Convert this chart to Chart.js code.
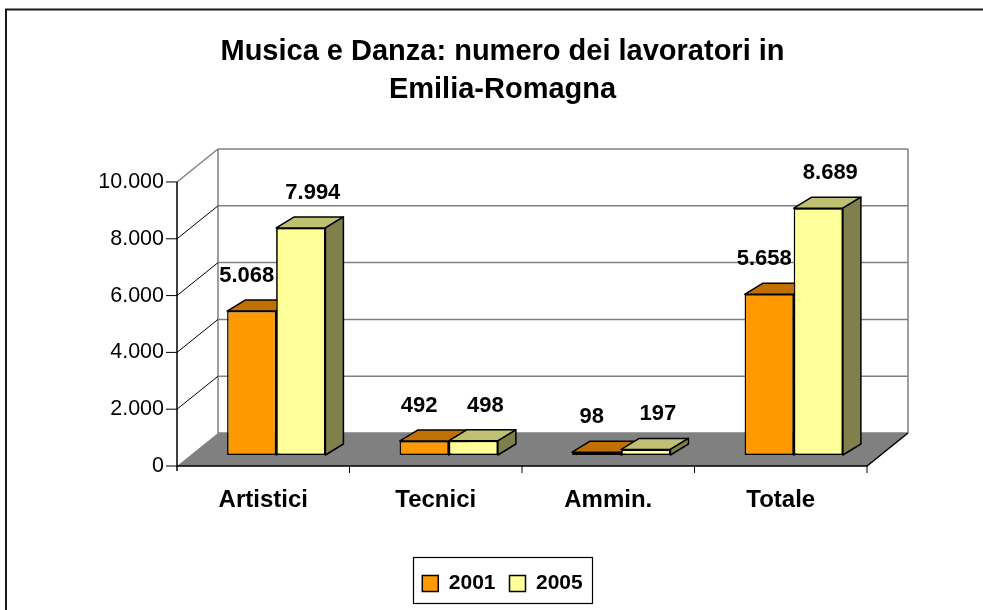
<!DOCTYPE html>
<html>
<head>
<meta charset="utf-8">
<script src="https://cdn.jsdelivr.net/npm/chart.js@4"></script>
<style>
  html, body { margin: 0; padding: 0; background: #fff; }
  canvas { display: block; }
</style>
</head>
<body>
<canvas id="chart" width="983" height="610"></canvas>
<script>
const categories = ["Artistici", "Tecnici", "Ammin.", "Totale"];
const values2001 = [5068, 492, 98, 5658];
const values2005 = [7994, 498, 197, 8689];
const seriesNames = ["2001", "2005"];
const yMax = 10000;
const yStep = 2000;

// 3D look: offsets relative to the plane where the bars stand
const F = { x: -13, y: 11 };   // front edge of floor / axes
const B = { x: 28, y: -22 };   // back wall
const D = { x: 18, y: -11 };   // depth of a bar

const sideColors = [
  { front: "#FF9900", top: "#C07000", side: "#804C00" },
  { front: "#FFFF99", top: "#C0C073", side: "#80804C" },
];
const labelShift = [ { x: -5, y: -35 }, { x: 12, y: -35 } ];

function fmt(v) {
  return String(v).replace(/\B(?=(\d{3})+(?!\d))/g, ".");
}

function drawFaces(ctx, bar, col) {
  const { x, y, base, width } = bar.getProps(["x", "y", "base", "width"], true);
  const x1 = x - width / 2, x2 = x + width / 2;
  ctx.save();
  ctx.strokeStyle = "#000";
  ctx.lineWidth = 1.5;
  ctx.lineJoin = "round";
  ctx.fillStyle = col.top;
  ctx.beginPath();
  ctx.moveTo(x1, y); ctx.lineTo(x1 + D.x, y + D.y);
  ctx.lineTo(x2 + D.x, y + D.y); ctx.lineTo(x2, y);
  ctx.closePath(); ctx.fill(); ctx.stroke();
  ctx.fillStyle = col.side;
  ctx.beginPath();
  ctx.moveTo(x2, y); ctx.lineTo(x2 + D.x, y + D.y);
  ctx.lineTo(x2 + D.x, base + D.y); ctx.lineTo(x2, base);
  ctx.closePath(); ctx.fill(); ctx.stroke();
  ctx.restore();
}

const frame3d = {
  id: "frame3d",
  beforeDraw(chart) {
    const ctx = chart.ctx;
    ctx.save();
    ctx.strokeStyle = "#1a1a1a";
    ctx.lineWidth = 2;
    ctx.strokeRect(6, 9.5, 1200, 900);
    ctx.restore();
  },
  beforeDatasetsDraw(chart) {
    const { ctx, chartArea: a, scales: { y } } = chart;
    const y0 = y.getPixelForValue(0);
    const yT = y.getPixelForValue(yMax);
    const bl = a.left + B.x, br = a.right + B.x;
    const fl = a.left + F.x, fr = a.right + F.x;
    ctx.save();

    // back wall gridlines
    ctx.strokeStyle = "#808080";
    ctx.lineWidth = 1.5;
    y.ticks.forEach(t => {
      const py = y.getPixelForValue(t.value) + B.y;
      ctx.beginPath(); ctx.moveTo(bl, py); ctx.lineTo(br, py); ctx.stroke();
    });
    ctx.beginPath();
    ctx.moveTo(bl, y0 + B.y); ctx.lineTo(bl, yT + B.y);
    ctx.moveTo(br, y0 + B.y); ctx.lineTo(br, yT + B.y);
    ctx.moveTo(fl, yT + F.y); ctx.lineTo(bl, yT + B.y);
    ctx.stroke();

    // left wall lines from the axis ticks
    ctx.strokeStyle = "#000";
    ctx.lineWidth = 1;
    y.ticks.forEach(t => {
      if (t.value === 0 || t.value === yMax) return;
      const py = y.getPixelForValue(t.value);
      ctx.beginPath(); ctx.moveTo(fl, py + F.y); ctx.lineTo(bl, py + B.y); ctx.stroke();
    });

    // floor
    ctx.fillStyle = "#808080";
    ctx.beginPath();
    ctx.moveTo(fl, y0 + F.y); ctx.lineTo(fr, y0 + F.y);
    ctx.lineTo(br, y0 + B.y); ctx.lineTo(bl, y0 + B.y);
    ctx.closePath(); ctx.fill();

    // front axes
    ctx.strokeStyle = "#000";
    ctx.lineWidth = 1.5;
    ctx.beginPath();
    ctx.moveTo(fl, yT + F.y); ctx.lineTo(fl, y0 + F.y + 5);
    ctx.moveTo(fl, y0 + F.y); ctx.lineTo(fr, y0 + F.y); ctx.lineTo(br, y0 + B.y);
    ctx.stroke();
    ctx.lineWidth = 1;
    ctx.beginPath();
    y.ticks.forEach(t => {
      const py = y.getPixelForValue(t.value) + F.y;
      ctx.moveTo(fl - 11, py); ctx.lineTo(fl, py);
    });
    const n = categories.length;
    for (let i = 1; i <= n; i++) {
      const px = a.left + (a.width * i) / n + F.x;
      ctx.moveTo(px, y0 + F.y); ctx.lineTo(px, y0 + F.y + 7);
    }
    ctx.stroke();
    ctx.restore();
  },
  afterDatasetsDraw(chart) {
    const ctx = chart.ctx;
    const m0 = chart.getDatasetMeta(0);
    const m1 = chart.getDatasetMeta(1);
    // Chart.js paints dataset 0 last; give each pair its depth faces and put 2005 back in front
    m0.data.forEach((bar, i) => {
      drawFaces(ctx, bar, sideColors[0]);
      m1.data[i].draw(ctx, chart.chartArea);
      drawFaces(ctx, m1.data[i], sideColors[1]);
    });

    ctx.save();
    ctx.fillStyle = "#000";
    ctx.font = "bold 22px 'Liberation Sans', Arial, sans-serif";
    ctx.textAlign = "center";
    ctx.textBaseline = "middle";
    chart.data.datasets.forEach((ds, di) => {
      chart.getDatasetMeta(di).data.forEach((bar, i) => {
        ctx.fillText(fmt(ds.data[i]), bar.x + labelShift[di].x, bar.y + labelShift[di].y);
      });
    });
    // box round the legend
    const lg = chart.legend;
    const hb = lg.legendHitBoxes;
    const left = hb[0].left - 9;
    const last = hb[hb.length - 1];
    const right = last.left + last.width + 10;
    ctx.strokeStyle = "#000";
    ctx.lineWidth = 1.2;
    ctx.strokeRect(Math.round(left) + 0.5, Math.round(lg.top) - 1.5, Math.round(right - left), Math.round(lg.height) + 1);
    ctx.restore();
  },
};

new Chart(document.getElementById("chart"), {
  type: "bar",
  data: {
    labels: categories,
    datasets: [
      { label: seriesNames[0], data: values2001, backgroundColor: sideColors[0].front },
      { label: seriesNames[1], data: values2005, backgroundColor: sideColors[1].front },
    ],
  },
  options: {
    responsive: false,
    animation: false,
    devicePixelRatio: 1,
    layout: { padding: { left: 22, right: 0, top: 0, bottom: 6 } },
    datasets: {
      bar: {
        borderColor: "#000",
        borderWidth: 1.5,
        borderSkipped: false,
        barPercentage: 1,
        categoryPercentage: 0.57,
      },
    },
    scales: {
      x: {
        grid: { display: false },
        border: { display: false },
        ticks: {
          color: "#000",
          padding: 23,
          labelOffset: -13,
          font: { family: "'Liberation Sans', Arial, sans-serif", size: 24, weight: "bold" },
        },
        afterFit(s) { s.height = 104; },
      },
      y: {
        min: 0,
        max: yMax,
        grid: { display: false, drawTicks: false },
        border: { display: false },
        ticks: {
          stepSize: yStep,
          color: "#000",
          padding: 26,
          labelOffset: 11,
          font: { family: "'Liberation Sans', Arial, sans-serif", size: 21.5 },
          callback: v => fmt(v),
        },
        afterFit(s) { s.width = 168; },
      },
      yRight: {
        position: "right",
        grid: { display: false },
        border: { display: false },
        ticks: { display: false },
        afterFit(s) { s.width = 103; },
      },
    },
    plugins: {
      title: {
        display: true,
        text: ["Musica e Danza: numero dei lavoratori in", "Emilia-Romagna"],
        color: "#000",
        font: { family: "'Liberation Sans', Arial, sans-serif", size: 29, weight: "bold", lineHeight: 1.31 },
        padding: { top: 33, bottom: 62 },
      },
      legend: {
        position: "bottom",
        labels: {
          color: "#000",
          boxWidth: 16,
          boxHeight: 16,
          padding: 14,
          font: { family: "'Liberation Sans', Arial, sans-serif", size: 21, weight: "bold" },
        },
      },
      tooltip: { enabled: false },
    },
  },
  plugins: [frame3d],
});
</script>
</body>
</html>
